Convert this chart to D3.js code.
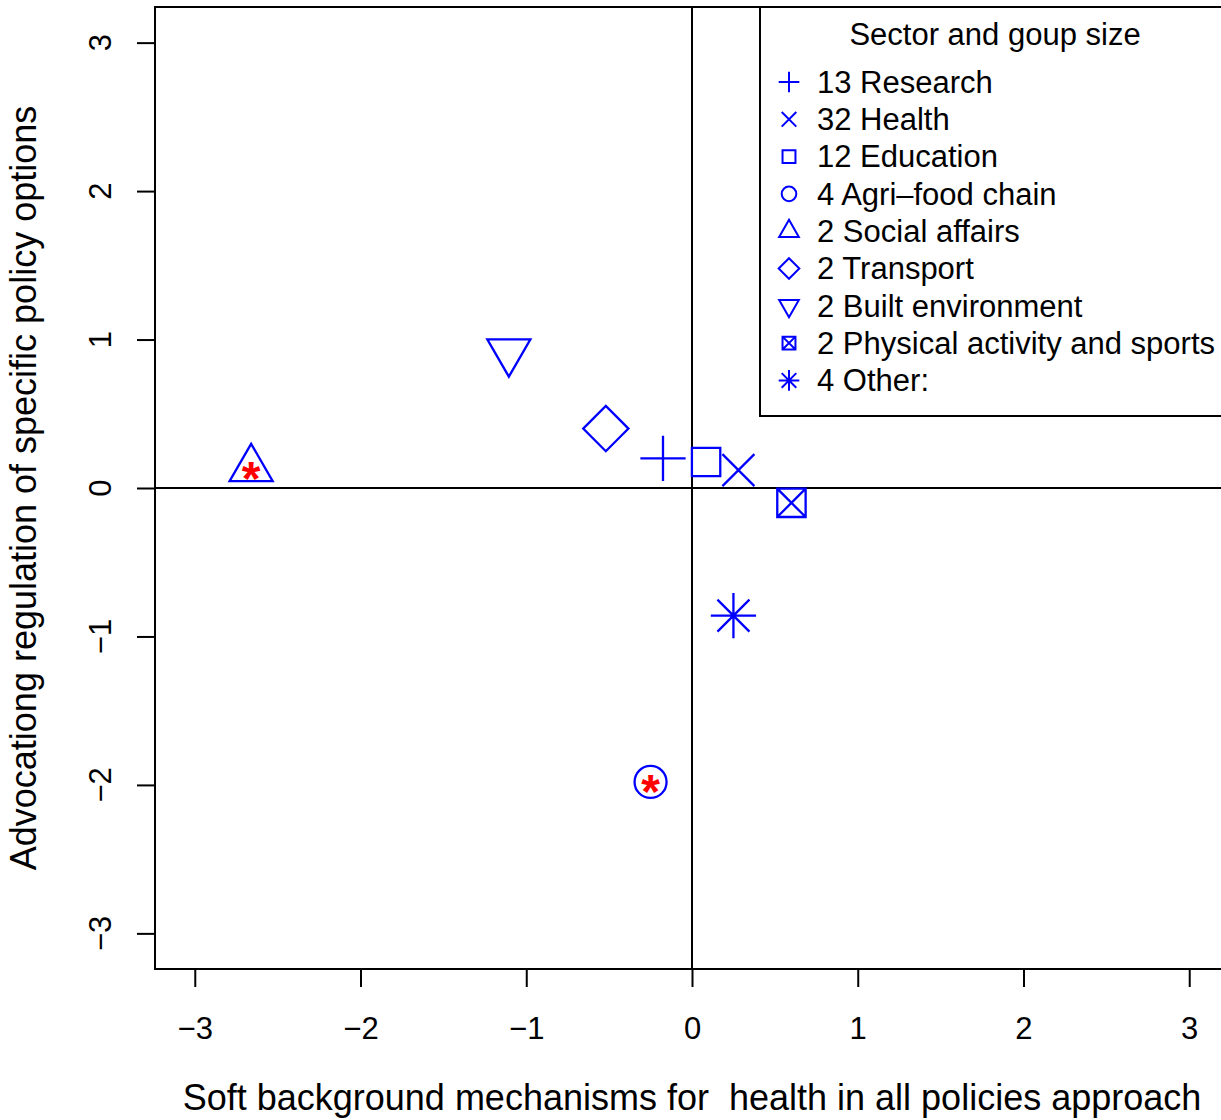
<!DOCTYPE html>
<html>
<head>
<meta charset="utf-8">
<script src="https://cdn.jsdelivr.net/npm/d3@7"></script>
<style>
  body { margin: 0; background: #fff; }
  text { font-family: "Liberation Sans", Arial, sans-serif; }
</style>
</head>
<body>
<svg id="chart" width="1221" height="1120"></svg>
<script>
// sectors, group sizes and the two factor scores per sector
var sectors = ["Research", "Health", "Education", "Agri\u2013food chain", "Social affairs",
               "Transport", "Built environment", "Physical activity and sports", "Other:"];
var groupSizes = [13, 32, 12, 4, 2, 2, 2, 2, 4];
var pchCodes = [3, 4, 0, 1, 2, 5, 6, 7, 8];
var softScores = [-0.175, 0.28, 0.085, -0.25, -2.66, -0.52, -1.105, 0.60, 0.25];
var regulationScores = [0.20, 0.12, 0.175, -1.98, 0.13, 0.40, 0.918, -0.10, -0.86];
var flagged = ["Agri\u2013food chain", "Social affairs"];
var ticks = [-3, -2, -1, 0, 1, 2, 3];

var svg = d3.select('#chart');
var plotL = 155, plotR = 1229, plotT = 7, plotB = 969;

var xscale = d3.scaleLinear().domain([-3.24, 3.24]).range([plotL, plotR]);
var yscale = d3.scaleLinear().domain([-3.24, 3.24]).range([plotB, plotT]);

function minus(d){ return d < 0 ? '\u2212' + (-d) : '' + d; }

// R-style plotting symbols, r is the base radius
function pchPath(pch, r){
  var p = d3.path();
  var s, t;
  switch(pch){
    case 0:
      s = r * 0.886;
      p.rect(-s, -s, 2*s, 2*s);
      break;
    case 1:
      p.arc(0, 0, r, 0, 2*Math.PI); p.closePath();
      break;
    case 2:
      t = 1.5551 * r;
      p.moveTo(0, -t); p.lineTo(1.3468*r, 0.7776*r); p.lineTo(-1.3468*r, 0.7776*r); p.closePath();
      break;
    case 3:
      s = Math.SQRT2 * r;
      p.moveTo(-s, 0); p.lineTo(s, 0); p.moveTo(0, -s); p.lineTo(0, s);
      break;
    case 4:
      p.moveTo(-r, -r); p.lineTo(r, r); p.moveTo(-r, r); p.lineTo(r, -r);
      break;
    case 5:
      s = Math.SQRT2 * r;
      p.moveTo(-s, 0); p.lineTo(0, -s); p.lineTo(s, 0); p.lineTo(0, s); p.closePath();
      break;
    case 6:
      t = 1.5551 * r;
      p.moveTo(0, t); p.lineTo(1.3468*r, -0.7776*r); p.lineTo(-1.3468*r, -0.7776*r); p.closePath();
      break;
    case 7:
      s = r * 0.886;
      p.rect(-s, -s, 2*s, 2*s);
      p.moveTo(-s, -s); p.lineTo(s, s); p.moveTo(-s, s); p.lineTo(s, -s);
      break;
    case 8:
      s = Math.SQRT2 * r;
      p.moveTo(-s, 0); p.lineTo(s, 0); p.moveTo(0, -s); p.lineTo(0, s);
      p.moveTo(-r, -r); p.lineTo(r, r); p.moveTo(-r, r); p.lineTo(r, -r);
      break;
  }
  return p.toString();
}

var data = sectors.map(function(d, i){
  return {sector: d, n: groupSizes[i], pch: pchCodes[i], x: softScores[i], y: regulationScores[i]};
});

// reference lines
svg.append('line')
  .attr('x1', xscale(0)).attr('x2', xscale(0))
  .attr('y1', plotT).attr('y2', plotB)
  .attr('stroke', '#000').attr('stroke-width', 2);
svg.append('line')
  .attr('x1', plotL).attr('x2', plotR)
  .attr('y1', yscale(0)).attr('y2', yscale(0))
  .attr('stroke', '#000').attr('stroke-width', 2);

// points
svg.selectAll('.pt')
  .data(data)
  .enter()
  .append('path')
  .attr('class', 'pt')
  .attr('transform', function(d){ return 'translate(' + xscale(d.x) + ',' + yscale(d.y) + ')'; })
  .attr('d', function(d){ return pchPath(d.pch, 16); })
  .attr('fill', 'none')
  .attr('stroke', '#0000ff')
  .attr('stroke-width', 2.3);

svg.selectAll('.flag')
  .data(data.filter(function(d){ return flagged.indexOf(d.sector) >= 0; }))
  .enter()
  .append('text')
  .attr('class', 'flag')
  .attr('x', function(d){ return xscale(d.x); })
  .attr('y', function(d){ return yscale(d.y); })
  .attr('dy', '0.54em')
  .attr('text-anchor', 'middle')
  .attr('font-size', 48)
  .attr('font-weight', 'bold')
  .attr('fill', '#ff0000')
  .text('*');

// frame
svg.append('rect')
  .attr('x', plotL).attr('y', plotT)
  .attr('width', plotR - plotL).attr('height', plotB - plotT)
  .attr('fill', 'none').attr('stroke', '#000').attr('stroke-width', 2);

// axes
var xAxis = svg.append('g')
  .attr('transform', 'translate(0,' + plotB + ')')
  .call(d3.axisBottom(xscale).tickValues(ticks).tickSize(18).tickPadding(30).tickFormat(minus));
xAxis.select('.domain').remove();
xAxis.selectAll('line').attr('stroke-width', 2);
xAxis.selectAll('text').attr('font-size', 31).attr('font-family', '"Liberation Sans", Arial, sans-serif');

var yAxis = svg.append('g')
  .attr('transform', 'translate(' + plotL + ',0)')
  .call(d3.axisLeft(yscale).tickValues(ticks).tickSize(18).tickFormat(''));
yAxis.select('.domain').remove();
yAxis.selectAll('line').attr('stroke-width', 2);

svg.selectAll('.ylab')
  .data(ticks)
  .enter()
  .append('text')
  .attr('class', 'ylab')
  .attr('transform', function(d){ return 'translate(111,' + yscale(d) + ') rotate(-90)'; })
  .attr('text-anchor', 'middle')
  .attr('font-size', 31)
  .text(minus);

// axis titles
svg.append('text')
  .attr('x', xscale(0)).attr('y', 1110)
  .attr('text-anchor', 'middle')
  .attr('font-size', 36)
  .style('white-space', 'pre')
  .text('Soft background mechanisms for  health in all policies approach');

svg.append('text')
  .attr('transform', 'translate(36,' + yscale(0) + ') rotate(-90)')
  .attr('text-anchor', 'middle')
  .attr('font-size', 36)
  .text('Advocationg regulation of specific policy options');

// legend
var legend = svg.append('g');
legend.append('rect')
  .attr('x', 760).attr('y', plotT)
  .attr('width', plotR - 760).attr('height', 409)
  .attr('fill', '#fff').attr('stroke', '#000').attr('stroke-width', 2);
legend.append('text')
  .attr('x', 995).attr('y', 34).attr('dy', '0.35em')
  .attr('text-anchor', 'middle')
  .attr('font-size', 31)
  .text('Sector and goup size');

var rowY = d3.scaleLinear().domain([0, 1]).range([82, 119.3]);
var items = legend.selectAll('.item')
  .data(data)
  .enter()
  .append('g')
  .attr('class', 'item')
  .attr('transform', function(d, i){ return 'translate(0,' + rowY(i) + ')'; });
items.append('path')
  .attr('transform', 'translate(789,0)')
  .attr('d', function(d){ return pchPath(d.pch, 7.3); })
  .attr('fill', 'none')
  .attr('stroke', '#0000ff')
  .attr('stroke-width', 2);
items.append('text')
  .attr('x', 817).attr('dy', '0.35em')
  .attr('font-size', 31)
  .text(function(d){ return d.n + ' ' + d.sector; });
</script>
</body>
</html>
